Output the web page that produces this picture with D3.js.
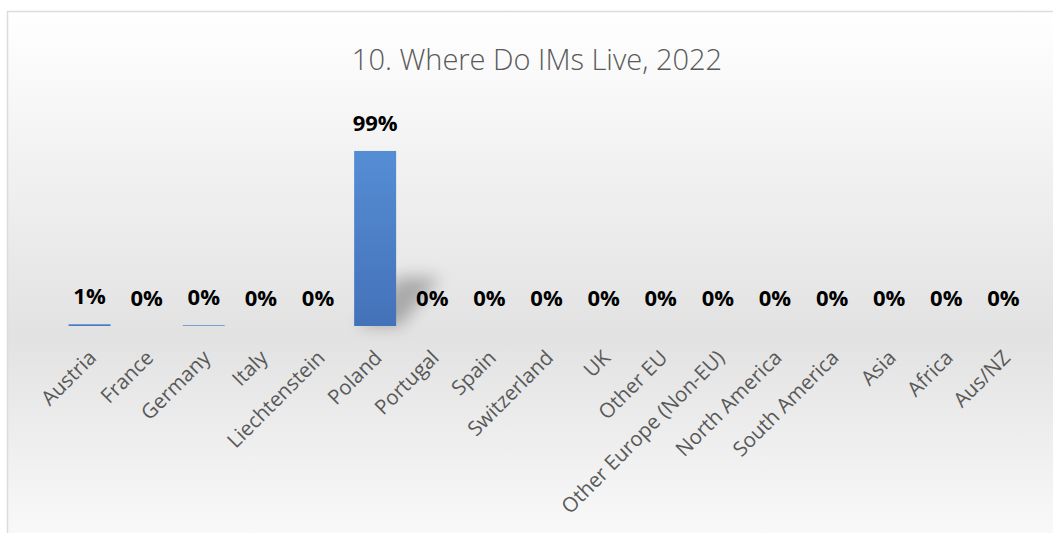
<!DOCTYPE html>
<html>
<head>
<meta charset="utf-8">
<script src="https://cdn.jsdelivr.net/npm/d3@7"></script>
<style>
  html, body { margin: 0; padding: 0; background: #ffffff; }
  svg { display: block; }
</style>
</head>
<body>
<svg id="chart" width="1053" height="533"></svg>
<script>
// Share of IMs by country of residence, 2022
const categories = [
  "Austria", "France", "Germany", "Italy", "Liechtenstein", "Poland",
  "Portugal", "Spain", "Switzerland", "UK", "Other EU",
  "Other Europe (Non-EU)", "North America", "South America", "Asia",
  "Africa", "Aus/NZ"
];
const shares = [0.01, 0, 0.004, 0, 0, 0.99, 0, 0, 0, 0, 0, 0, 0, 0, 0, 0, 0];
const titleText = "10. Where Do IMs Live, 2022";

const W = 1053, H = 533;
const svg = d3.select("#chart");
const defs = svg.append("defs");

// chart-area background: light top, darker band at the baseline, light again below
const bg = defs.append("linearGradient")
  .attr("id", "bgGrad").attr("x1", 0).attr("y1", 0).attr("x2", 0).attr("y2", 1);
bg.append("stop").attr("offset", "0%").attr("stop-color", "#ffffff");
bg.append("stop").attr("offset", "61%").attr("stop-color", "#e2e2e2");
bg.append("stop").attr("offset", "100%").attr("stop-color", "#fafafa");

const barGrad = defs.append("linearGradient")
  .attr("id", "barGrad").attr("x1", 0).attr("y1", 0).attr("x2", 0).attr("y2", 1);
barGrad.append("stop").attr("offset", "0%").attr("stop-color", "#558dd4");
barGrad.append("stop").attr("offset", "100%").attr("stop-color", "#4472b9");

const blur = defs.append("filter").attr("id", "shadowBlur")
  .attr("x", "-60%").attr("y", "-60%").attr("width", "220%").attr("height", "220%");
blur.append("feGaussianBlur").attr("stdDeviation", 8);

svg.append("rect")
  .attr("x", 7.5).attr("y", 11.5)
  .attr("width", W + 20).attr("height", H)
  .attr("fill", "url(#bgGrad)")
  .attr("stroke", "#dcdcdc").attr("stroke-width", 1.5);

// scales
const x = d3.scaleBand()
  .domain(categories)
  .range([61, 1032])
  .paddingInner(0.265)
  .paddingOuter(0.1325);

const y = d3.scaleLinear()
  .domain([0, 1])
  .range([326, 149.2]);

// title
svg.append("text")
  .attr("x", 537).attr("y", 70)
  .attr("text-anchor", "middle")
  .attr("font-family", "'Open Sans', sans-serif")
  .attr("font-weight", 300)
  .attr("font-size", 29)
  .attr("fill", "#595959")
  .text(titleText);

// perspective shadows cast to the upper right
svg.append("g").selectAll("path")
  .data(categories)
  .join("path")
  .attr("d", (c, i) => {
    const x0 = x(c), x1 = x(c) + x.bandwidth();
    const b = y(0), h = (y(0) - y(shares[i])) * 0.28;
    const s = h * 0.9;
    return `M${x0 + 4},${b} L${x1 + 4},${b} L${x1 + s},${b - h} L${x0 + s},${b - h} Z`;
  })
  .attr("fill", "#000")
  .attr("opacity", 0.26)
  .attr("filter", "url(#shadowBlur)");

// bars
svg.append("g").selectAll("rect")
  .data(categories)
  .join("rect")
  .attr("x", c => x(c))
  .attr("width", x.bandwidth())
  .attr("y", (c, i) => y(shares[i]))
  .attr("height", (c, i) => y(0) - y(shares[i]))
  .attr("fill", "url(#barGrad)");

// value labels
const pct = d3.format(".0%");
svg.append("g").selectAll("text")
  .data(categories)
  .join("text")
  .attr("x", c => x(c) + x.bandwidth() / 2)
  .attr("y", (c, i) => y(shares[i]) - 20)
  .attr("text-anchor", "middle")
  .attr("font-family", "'Open Sans', sans-serif")
  .attr("font-weight", 700)
  .attr("font-size", 22)
  .attr("fill", "#000000")
  .text((c, i) => pct(shares[i]));

// category axis (no line, no ticks), labels rotated 45 degrees
const axis = svg.append("g")
  .attr("transform", `translate(0, ${y(0)})`)
  .call(d3.axisBottom(x).tickSize(0).tickPadding(0));
axis.select(".domain").remove();
axis.selectAll("text")
  .attr("font-family", "'Open Sans', sans-serif")
  .attr("font-size", 20.5)
  .attr("fill", "#595959")
  .attr("text-anchor", "end")
  .attr("dy", 0)
  .attr("y", 0)
  .attr("x", 0)
  .attr("transform", "translate(8, 33) rotate(-45)");
</script>
</body>
</html>
